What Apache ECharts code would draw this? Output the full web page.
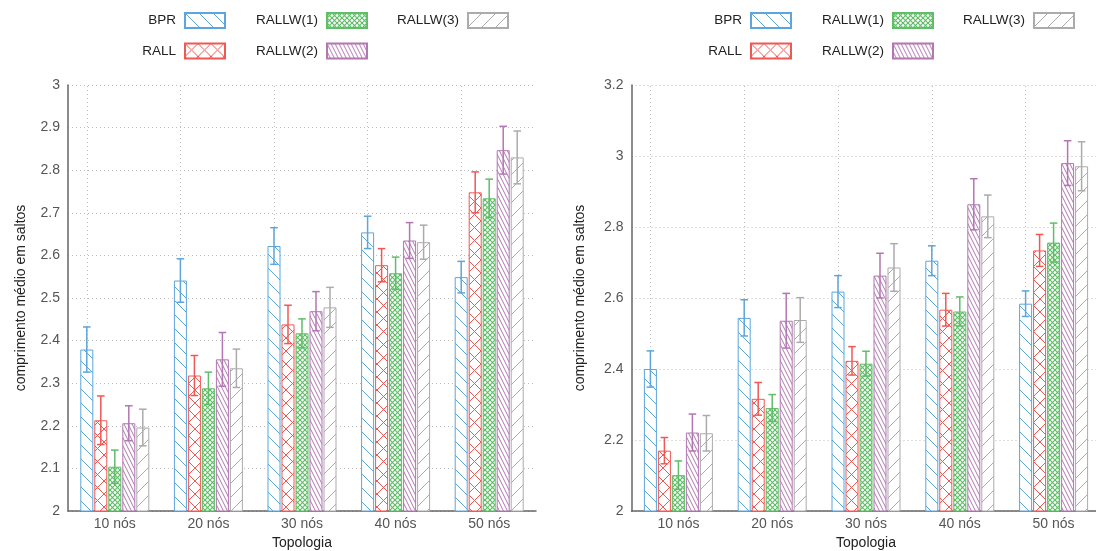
<!DOCTYPE html>
<html>
<head>
<meta charset="utf-8">
<script src="https://cdn.jsdelivr.net/npm/echarts@6/dist/echarts.min.js"></script>
<style>
html,body{margin:0;padding:0;background:#fff;}
#chart{width:1096px;height:551px;}
</style>
</head>
<body>
<div id="chart"></div>
<script>
// ---- data ----
const categories = ['10 nós', '20 nós', '30 nós', '40 nós', '50 nós'];
const seriesNames = ['BPR', 'RALL', 'RALLW(1)', 'RALLW(2)', 'RALLW(3)'];

// left chart: mean values
const bprL    = [2.379, 2.541, 2.622, 2.654, 2.549];
const rallL   = [2.213, 2.318, 2.438, 2.577, 2.748];
const rallw1L = [2.104, 2.288, 2.417, 2.558, 2.734];
const rallw2L = [2.206, 2.356, 2.469, 2.635, 2.847];
const rallw3L = [2.196, 2.335, 2.478, 2.631, 2.830];
// left chart: error half-widths
const bprErrL    = [0.053, 0.051, 0.043, 0.038, 0.037];
const rallErrL   = [0.057, 0.047, 0.045, 0.039, 0.048];
const rallw1ErrL = [0.039, 0.038, 0.034, 0.038, 0.045];
const rallw2ErrL = [0.041, 0.063, 0.046, 0.042, 0.056];
const rallw3ErrL = [0.043, 0.045, 0.047, 0.040, 0.062];

// right chart: mean values
const bprR    = [2.400, 2.544, 2.618, 2.705, 2.584];
const rallR   = [2.170, 2.316, 2.423, 2.567, 2.734];
const rallw1R = [2.101, 2.290, 2.415, 2.562, 2.756];
const rallw2R = [2.221, 2.536, 2.663, 2.864, 2.980];
const rallw3R = [2.219, 2.538, 2.686, 2.830, 2.971];
// right chart: error half-widths
const bprErrR    = [0.051, 0.051, 0.045, 0.042, 0.036];
const rallErrR   = [0.037, 0.046, 0.040, 0.046, 0.045];
const rallw1ErrR = [0.040, 0.038, 0.035, 0.041, 0.055];
const rallw2ErrR = [0.052, 0.077, 0.063, 0.072, 0.063];
const rallw3ErrR = [0.050, 0.063, 0.067, 0.060, 0.069];

// y-axis tick labels
const yTicksL = ['2', '2.1', '2.2', '2.3', '2.4', '2.5', '2.6', '2.7', '2.8', '2.9', '3'];
const yTicksR = ['2', '2.2', '2.4', '2.6', '2.8', '3', '3.2'];

const yName = 'comprimento médio em saltos';
const xName = 'Topologia';

// ---- styles ----
const colors = ['#5DA5DA', '#F15854', '#60BD68', '#B276B2', '#ABABAB'];
const FONT = 'Liberation Sans, Arial, Helvetica, sans-serif';
const GRID_DOT = { type: [1, 3], color: '#bdbdbd', width: 1 };

function makePattern(color, w, h, dirs, lw) {
  const c = document.createElement('canvas');
  c.width = w; c.height = h;
  const ctx = c.getContext('2d');
  ctx.fillStyle = '#fff';
  ctx.fillRect(0, 0, w, h);
  ctx.strokeStyle = color;
  ctx.lineWidth = lw;
  for (const d of dirs) {
    for (let k = -1; k <= 1; k++) {
      ctx.beginPath();
      if (d === '\\') { ctx.moveTo(k * w, 0); ctx.lineTo(k * w + w, h); }
      else { ctx.moveTo(k * w, h); ctx.lineTo(k * w + w, 0); }
      ctx.stroke();
    }
  }
  return { image: c, repeat: 'repeat' };
}
const patterns = [
  makePattern(colors[0], 14, 14, ['\\'], 1),
  makePattern(colors[1], 13, 13, ['\\', '/'], 1),
  makePattern(colors[2], 5, 5, ['\\', '/'], 1.2),
  makePattern(colors[3], 4, 8, ['\\'], 1),
  makePattern(colors[4], 14, 14, ['/'], 1)
];

const BAR_W = 13;
const BAR_PITCH = 14;

const leftVals = [bprL, rallL, rallw1L, rallw2L, rallw3L];
const leftErrs = [bprErrL, rallErrL, rallw1ErrL, rallw2ErrL, rallw3ErrL];
const rightVals = [bprR, rallR, rallw1R, rallw2R, rallw3R];
const rightErrs = [bprErrR, rallErrR, rallw1ErrR, rallw2ErrR, rallw3ErrR];

const series = [];
function addChart(vals, errs, axisIdx) {
  vals.forEach((v, i) => {
    const s = {
      type: 'bar',
      name: seriesNames[i],
      xAxisIndex: axisIdx, yAxisIndex: axisIdx,
      data: v,
      barWidth: BAR_W,
      barGap: ((BAR_PITCH - BAR_W) / BAR_W * 100) + '%',
      z: 2,
      itemStyle: { color: patterns[i], borderColor: colors[i], borderWidth: 1 },
      emphasis: { disabled: true },
      animation: false
    };
    if (i === 0) {
      s.markLine = {
        silent: true, symbol: 'none', z: 1, animation: false,
        label: { show: false },
        lineStyle: GRID_DOT,
        data: categories.map(c => ({ xAxis: c }))
      };
    }
    series.push(s);
  });
  vals.forEach((v, i) => {
    const off = (i - 2) * BAR_PITCH;
    series.push({
      type: 'custom',
      name: seriesNames[i] + ' err',
      xAxisIndex: axisIdx, yAxisIndex: axisIdx,
      z: 3,
      animation: false,
      silent: true,
      encode: { x: 0, y: [1, 2] },
      data: v.map((m, j) => [j, m - errs[i][j], m + errs[i][j]]),
      renderItem: function (params, api) {
        const c = api.value(0);
        const p1 = api.coord([c, api.value(1)]);
        const p2 = api.coord([c, api.value(2)]);
        const x = p1[0] + off;
        const st = { stroke: colors[i], lineWidth: 1.5 };
        return {
          type: 'group',
          children: [
            { type: 'line', shape: { x1: x, y1: p1[1], x2: x, y2: p2[1] }, style: st },
            { type: 'line', shape: { x1: x - 3.8, y1: p1[1], x2: x + 3.8, y2: p1[1] }, style: st },
            { type: 'line', shape: { x1: x - 3.8, y1: p2[1], x2: x + 3.8, y2: p2[1] }, style: st }
          ]
        };
      }
    });
  });
}
addChart(leftVals, leftErrs, 0);
addChart(rightVals, rightErrs, 1);

function xAxis(gridIndex) {
  return {
    type: 'category', gridIndex: gridIndex, data: categories,
    name: xName, nameLocation: 'middle', nameGap: 25,
    nameTextStyle: { fontSize: 14, color: '#222', fontFamily: FONT },
    axisLine: { lineStyle: { color: '#666', width: 1.5 } },
    axisTick: { show: false },
    axisLabel: { fontSize: 14, color: '#555', margin: 6, fontFamily: FONT },
    splitLine: { show: false }
  };
}
function yAxis(gridIndex, ticks, nameGap) {
  const min = +ticks[0], max = +ticks[ticks.length - 1];
  const interval = +ticks[1] - +ticks[0];
  return {
    type: 'value', gridIndex: gridIndex,
    min: min, max: max, interval: interval,
    name: yName, nameLocation: 'middle', nameGap: nameGap,
    nameTextStyle: { fontSize: 14, color: '#222', fontFamily: FONT },
    axisLine: { show: true, lineStyle: { color: '#666', width: 1.5 } },
    axisTick: { show: false },
    axisLabel: {
      fontSize: 14, color: '#555', margin: 8, fontFamily: FONT,
      formatter: function (v) {
        const idx = Math.round((v - min) / interval);
        return ticks[idx] !== undefined ? ticks[idx] : '';
      }
    },
    splitLine: { show: true, lineStyle: GRID_DOT }
  };
}

// legend items: [series index, icon right edge x, top]
const legendLayout = [
  [0, 226, 12], [1, 226, 42.5], [2, 368, 12], [3, 368, 42.5], [4, 509, 12]
];
const legendOffsets = [0, 566];
const legends = [];
legendOffsets.forEach(dx => {
  legendLayout.forEach(([i, rx, top]) => {
    legends.push({
      data: [seriesNames[i]],
      right: 1096 - (rx + dx), top: top,
      padding: 0,
      align: 'right',
      icon: 'rect',
      itemWidth: 40, itemHeight: 15,
      selectedMode: false,
      textStyle: { fontSize: 13.5, color: '#222', fontFamily: FONT, padding: [0, 4, 0, 0] }
    });
  });
});

const chart = echarts.init(document.getElementById('chart'), null, { renderer: 'canvas' });
chart.setOption({
  animation: false,
  backgroundColor: '#fff',
  textStyle: { fontFamily: FONT },
  legend: legends,
  grid: [
    { left: 68, top: 85, width: 468, height: 426, containLabel: false, outerBoundsMode: 'none' },
    { left: 631.5, top: 85, width: 469, height: 426, containLabel: false, outerBoundsMode: 'none' }
  ],
  xAxis: [xAxis(0), xAxis(1)],
  yAxis: [yAxis(0, yTicksL, 40), yAxis(1, yTicksR, 44)],
  series: series
});
</script>
</body>
</html>
